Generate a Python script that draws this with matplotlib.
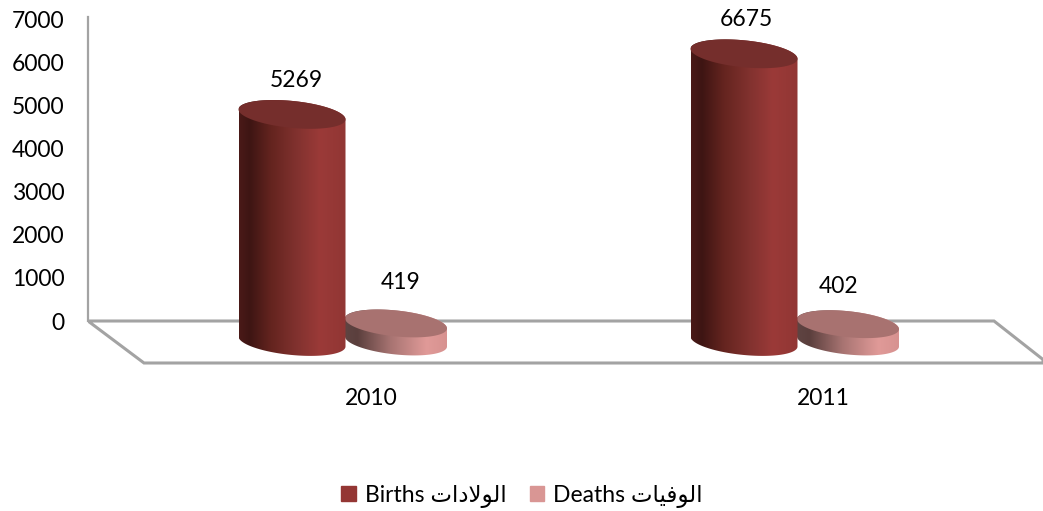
import numpy as np
import matplotlib
matplotlib.use("Agg")
import matplotlib.pyplot as plt
from matplotlib.colors import LinearSegmentedColormap
from matplotlib.patches import Patch, PathPatch, Polygon
from matplotlib.path import Path

categories = ["2010", "2011"]
births = [5269, 6675]
deaths = [419, 402]
yticks = [0, 1000, 2000, 3000, 4000, 5000, 6000, 7000]
# logical Arabic: الولادات / الوفيات, written as visual-order presentation forms
# because matplotlib does not shape or reorder Arabic
births_label = "Births \uFE95\uFE8D\uFEA9\uFEFB\uFEEE\uFEDF\uFE8D"
deaths_label = "Deaths \uFE95\uFE8E\uFEF4\uFED3\uFEEE\uFEDF\uFE8D"

plt.rcParams["font.family"] = ["Lato", "DejaVu Sans"]
W, H = 1043, 511
fig = plt.figure(figsize=(W / 100, H / 100), dpi=100)
# axes spans pixel x 88..1043 and pixel y 0..382
ax = fig.add_axes([88 / W, 1 - 382 / H, (W - 88) / W, 382 / H])
ax.patch.set_alpha(0)

PX_PER_UNIT = 0.0431   # vertical pixels per value
PX_PER_CAT = 452.0     # horizontal pixels per category
ZERO_PX = 321.0
X0_PX = 371.0
dy = lambda px: px / PX_PER_UNIT
dx = lambda px: px / PX_PER_CAT
py2v = lambda py: (ZERO_PX - py) / PX_PER_UNIT
px2x = lambda px: (px - X0_PX) / PX_PER_CAT

ax.set_xlim(px2x(88), px2x(W))
ax.set_ylim(py2v(382), py2v(0))

GREY = "#a3a3a3"
floor = [(88, 321), (994, 321), (1043, 359.5), (1043, 363), (144, 363)]
ax.add_patch(Polygon([(px2x(a), py2v(b)) for a, b in floor], closed=True,
                     fill=False, edgecolor=GREY, lw=2.2, zorder=1, clip_on=True,
                     joinstyle="miter"))

births_cmap = LinearSegmentedColormap.from_list("b", [
    (0, "#4a1a18"), (0.1, "#3e1513"), (0.3, "#64241f"), (0.55, "#82322f"),
    (0.76, "#9b3a38"), (1, "#913634")])
deaths_cmap = LinearSegmentedColormap.from_list("d", [
    (0, "#5f4442"), (0.12, "#5b3f3d"), (0.45, "#a87472"), (0.8, "#e09a98"),
    (1, "#d79290")])

BASE_PX = 20.5


def cylinder(xc, value, half_px, b_px, skew_px, cmap, top_color, z):
    t = np.linspace(0, 2 * np.pi, 200)
    base = -dy(BASE_PX)
    top = base + value
    ex = dx(half_px) * np.cos(t)
    ey = dy(b_px) * np.sin(t) + dy(-skew_px) * np.cos(t)
    upper = t <= np.pi  # upper half in data coordinates
    up_x, up_y = xc + ex[upper], top + ey[upper]
    lo_x, lo_y = xc + ex[~upper], base + ey[~upper]
    verts = np.vstack([np.c_[up_x, up_y], np.c_[lo_x, lo_y]])
    path = Path(np.vstack([verts, verts[0]]), closed=True)
    clip = PathPatch(path, transform=ax.transData, fc="none", ec="none")
    ax.add_patch(clip)
    im = ax.imshow(np.linspace(0, 1, 256)[None, :], cmap=cmap, aspect="auto",
                   extent=(xc - dx(half_px), xc + dx(half_px), base - dy(30), top + dy(30)),
                   zorder=z, interpolation="bilinear")
    im.set_clip_path(clip)
    ax.add_patch(Polygon(np.c_[xc + ex, top + ey], closed=True, fc=top_color,
                         ec="none", zorder=z + 0.1))


ix = np.arange(len(categories))
for i in ix:
    cylinder(i + dx(25), deaths[i], 51, 13, 5, deaths_cmap, "#a87270", 3)
    cylinder(i - dx(79), births[i], 53.5, 13.5, 5, births_cmap, "#752e2c", 4)

ax.set_xlim(px2x(88), px2x(W))
ax.set_ylim(py2v(382), py2v(0))

label_shift_births = [(4, 34), (2, 34)]
label_shift_deaths = [(4.5, 41), (-9.5, 38)]
for i in ix:
    for xc, v, (sx, sy) in ((i - dx(79), births[i], label_shift_births[i]),
                            (i + dx(25), deaths[i], label_shift_deaths[i])):
        ax.annotate(str(v), (xc + dx(sx), v - dy(BASE_PX) + dy(sy)), ha="center", va="center",
                    fontsize=16.5, color="black", zorder=6, annotation_clip=False)

ax.set_xticks(ix, categories, fontsize=16.5)
ax.set_yticks(yticks, [str(v) for v in yticks], fontsize=16.5)
ax.tick_params(axis="x", length=0, pad=4, colors="black")
ax.tick_params(axis="y", length=0, pad=17, colors="black")
for s in ("top", "right", "bottom"):
    ax.spines[s].set_visible(False)
ax.spines["left"].set_color(GREY)
ax.spines["left"].set_linewidth(1.6)
ax.spines["left"].set_bounds(py2v(321), py2v(17))

handles = [Patch(color="#943634", label=births_label), Patch(color="#d99694", label=deaths_label)]
fig.legend(handles=handles, loc="center", bbox_to_anchor=(522 / W, 1 - 496 / H), ncol=2, frameon=False,
           fontsize=16.5, handlelength=0.62, handleheight=0.62, handletextpad=0.4,
           columnspacing=1.0, borderpad=0, borderaxespad=0)

fig.savefig("out.png", dpi=100)
